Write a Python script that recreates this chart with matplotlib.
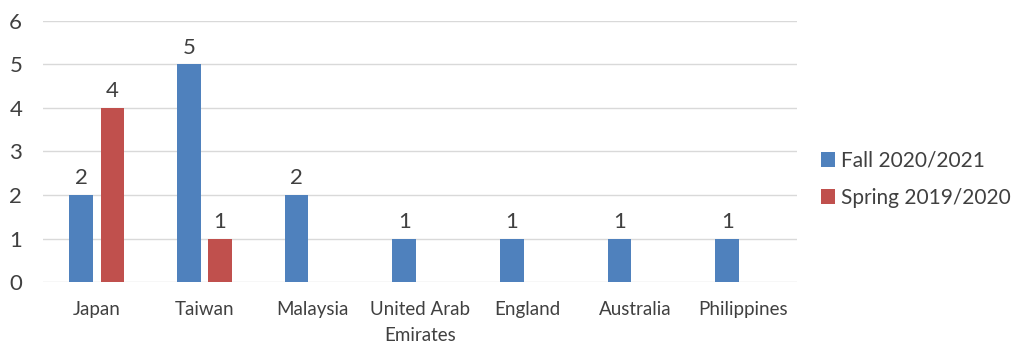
import numpy as np
import matplotlib.pyplot as plt

plt.rcParams['font.family'] = ['Lato', 'DejaVu Sans']

# data
countries = ['Japan', 'Taiwan', 'Malaysia', 'United Arab\nEmirates',
             'England', 'Australia', 'Philippines']
fall = [2, 5, 2, 1, 1, 1, 1]
spring = [4, 1, None, None, None, None, None]
series_names = ['Fall 2020/2021', 'Spring 2019/2020']

blue = '#4F81BD'
red = '#C0504D'
text_col = '#404040'

fig = plt.figure(figsize=(10.24, 3.55), dpi=100)
ax = fig.add_axes([0.042, 0.2056, 0.736, 0.7354])

x = np.arange(len(countries))
w = 0.22
off = 0.145

sp_x = [xi for xi, v in zip(x, spring) if v is not None]
sp_v = [v for v in spring if v is not None]

b1 = ax.bar(x - off, fall, width=w, color=blue, label=series_names[0], zorder=3)
b2 = ax.bar(np.array(sp_x) + off, sp_v, width=w, color=red, label=series_names[1], zorder=3)

ax.bar_label(b1, padding=5, fontsize=16, color=text_col)
ax.bar_label(b2, padding=5, fontsize=16, color=text_col)

ax.set_xlim(-0.5, len(countries) - 0.5)
ax.set_ylim(0, 6)
ax.set_yticks(range(0, 7))
ax.yaxis.grid(True, color='#D9D9D9', linewidth=1, zorder=0)
ax.set_xticks(x)
ax.set_xticklabels(countries, fontsize=13.5, color=text_col, linespacing=1.6)
ax.tick_params(axis='y', labelsize=16, labelcolor=text_col, length=0, pad=15)
ax.tick_params(axis='x', length=0, pad=14)
for s in ax.spines.values():
    s.set_visible(False)

fig.legend(handles=[b1, b2], labels=series_names, loc='center left',
           bbox_to_anchor=(0.783, 0.495), frameon=False, fontsize=15,
           labelcolor=text_col, handlelength=0.7, handleheight=0.7,
           handletextpad=0.3, labelspacing=0.8)

fig.savefig('out.png', dpi=100, facecolor='white')
